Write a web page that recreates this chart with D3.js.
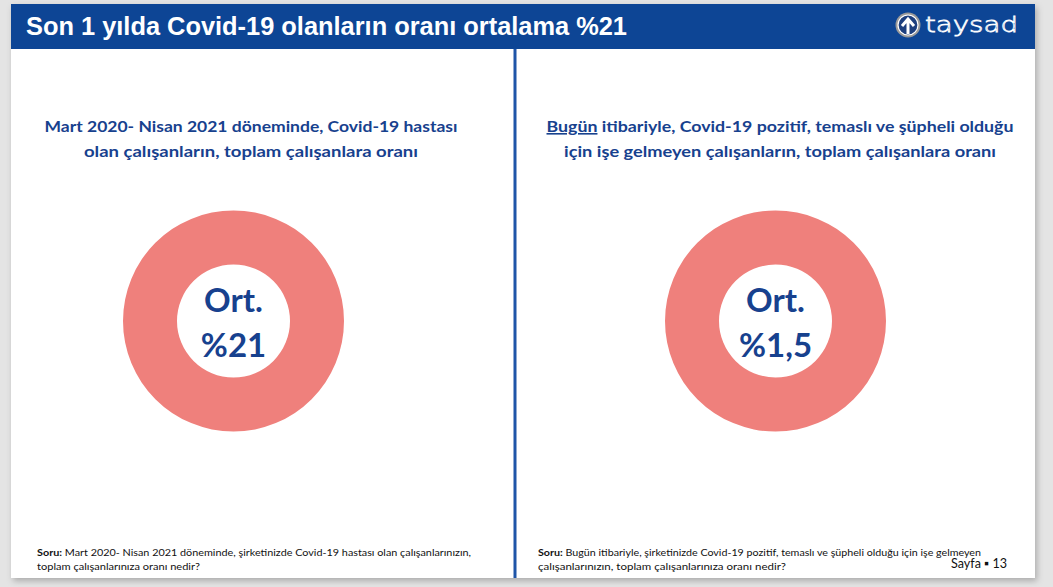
<!DOCTYPE html>
<html>
<head>
<meta charset="utf-8">
<script src="https://cdn.jsdelivr.net/npm/d3@7"></script>
<style>
  body { margin: 0; background: #e4e4e4; }
  svg { display: block; }
</style>
</head>
<body>
<script>
//slide texts and values
var headerTitle = "Son 1 yılda Covid-19 olanların oranı ortalama %21";
var panelTitles = [
    ["Mart 2020- Nisan 2021 döneminde, Covid-19 hastası", "olan çalışanların, toplam çalışanlara oranı"],
    ["itibariyle, Covid-19 pozitif, temaslı ve şüpheli olduğu", "için işe gelmeyen çalışanların, toplam çalışanlara oranı"]
];
var underlinedWord = "Bugün";
var centerTop = ["Ort.", "Ort."];
var centerValues = ["%21", "%1,5"];
var donutShares = [[100], [100]];
var questionLines = [
    ["Mart 2020- Nisan 2021 döneminde, şirketinizde Covid-19 hastası olan çalışanlarınızın,", "toplam çalışanlarınıza oranı nedir?"],
    ["Bugün itibariyle, şirketinizde Covid-19 pozitif, temaslı ve şüpheli olduğu için işe gelmeyen", "çalışanlarınızın, toplam çalışanlarınıza oranı nedir?"]
];
var pageLabel = "Sayfa ▪ 13";

var width = 1053,
    height = 587;

var blue = "#0d4595",
    textBlue = "#17418e",
    ringColor = "#ef807c";

var svg = d3.select("body")
    .append("svg")
    .attr("width", width)
    .attr("height", height);

//shadow + white slide
var defs = svg.append("defs");
var filt = defs.append("filter").attr("id", "shadow").attr("x", "-5%").attr("y", "-5%").attr("width", "110%").attr("height", "110%");
filt.append("feDropShadow").attr("dx", 2).attr("dy", 3).attr("stdDeviation", 3).attr("flood-color", "#000").attr("flood-opacity", 0.25);

svg.append("rect")
    .attr("x", 11).attr("y", 4)
    .attr("width", 1024).attr("height", 574)
    .attr("fill", "#fff")
    .attr("filter", "url(#shadow)");

//header band
svg.append("rect")
    .attr("x", 11).attr("y", 4)
    .attr("width", 1024).attr("height", 45)
    .attr("fill", blue);

svg.append("text")
    .attr("x", 26).attr("y", 35)
    .attr("font-family", "Liberation Sans, Arial, sans-serif")
    .attr("font-weight", "bold")
    .attr("font-size", 25)
    .attr("fill", "#fff")
    .attr("textLength", 601)
    .attr("lengthAdjust", "spacingAndGlyphs")
    .text(headerTitle);

//logo
var logo = svg.append("g").attr("transform", "translate(908,25)");
logo.append("circle").attr("r", 12.5).attr("fill", "#9a9a9a");
logo.append("circle").attr("r", 10).attr("fill", "#1d3f7e").attr("stroke", "#fff").attr("stroke-width", 1.2);
logo.append("path")
    .attr("d", "M0,9 L0,-4 M-6,1 L0,-6 L6,1")
    .attr("fill", "none").attr("stroke", "#fff").attr("stroke-width", 3).attr("stroke-linejoin", "miter");
svg.append("text")
    .attr("x", 925).attr("y", 32)
    .attr("font-family", "DejaVu Sans, sans-serif")
    .attr("font-weight", 200)
    .attr("font-size", 22)
    .attr("fill", "none")
    .attr("stroke", "#fff")
    .attr("stroke-width", 0.8)
    .attr("textLength", 93)
    .attr("lengthAdjust", "spacingAndGlyphs")
    .text("taysad");

//divider line
svg.append("line")
    .attr("x1", 515).attr("x2", 515)
    .attr("y1", 49).attr("y2", 578)
    .attr("stroke", "#1f55a8").attr("stroke-width", 3);

//panel layout
var centersX = [233.5, 775.5];
var centerY = 321;
var titleCenters = [251, 780];
var titleWidths = [[413, 334], [467, 432]];

var pie = d3.pie().sort(null);
var arc = d3.arc().innerRadius(56.5).outerRadius(110.5);

[0, 1].forEach(function(i){
    var g = svg.append("g").attr("transform", "translate(" + centersX[i] + "," + centerY + ")");

    //ring
    g.selectAll("path")
        .data(pie(donutShares[i]))
        .enter()
        .append("path")
        .attr("d", arc)
        .attr("fill", ringColor);

    //center labels
    g.append("text")
        .attr("text-anchor", "middle")
        .attr("y", -9)
        .attr("font-family", "Lato, Open Sans, sans-serif")
        .attr("font-weight", "bold")
        .attr("font-size", 33)
        .attr("fill", textBlue)
        .text(centerTop[i]);
    g.append("text")
        .attr("text-anchor", "middle")
        .attr("y", 36)
        .attr("font-family", "Lato, Open Sans, sans-serif")
        .attr("font-weight", "bold")
        .attr("font-size", 33)
        .attr("fill", textBlue)
        .text(centerValues[i]);

    //titles
    panelTitles[i].forEach(function(line, j){
        var t = svg.append("text")
            .attr("x", titleCenters[i])
            .attr("y", 132 + j * 25)
            .attr("text-anchor", "middle")
            .attr("font-family", "Lato, Open Sans, sans-serif")
            .attr("font-weight", "bold")
            .attr("font-size", 16)
            .attr("fill", textBlue)
            .attr("textLength", titleWidths[i][j])
            .attr("lengthAdjust", "spacingAndGlyphs");
        if (i == 1 && j == 0) {
            t.append("tspan").attr("text-decoration", "underline").text(underlinedWord);
            t.append("tspan").text(" " + line);
        } else {
            t.text(line);
        }
    });

    //question notes
    var qx = [37, 538][i];
    var qw = [[434, 163], [443, 248]];
    questionLines[i].forEach(function(line, j){
        var t = svg.append("text")
            .attr("x", qx)
            .attr("y", 556 + j * 14)
            .attr("font-family", "Lato, Open Sans, sans-serif")
            .attr("font-size", 10)
            .attr("fill", "#111")
            .attr("textLength", qw[i][j])
            .attr("lengthAdjust", "spacingAndGlyphs");
        if (j == 0) {
            t.append("tspan").attr("font-weight", "bold").text("Soru:");
            t.append("tspan").text(" " + line);
        } else {
            t.text(line);
        }
    });
});

//page number
svg.append("text")
    .attr("x", 951).attr("y", 568)
    .attr("font-family", "Lato, Open Sans, sans-serif")
    .attr("font-size", 13)
    .attr("fill", "#111")
    .attr("textLength", 56)
    .attr("lengthAdjust", "spacingAndGlyphs")
    .text(pageLabel);
</script>
</body>
</html>
